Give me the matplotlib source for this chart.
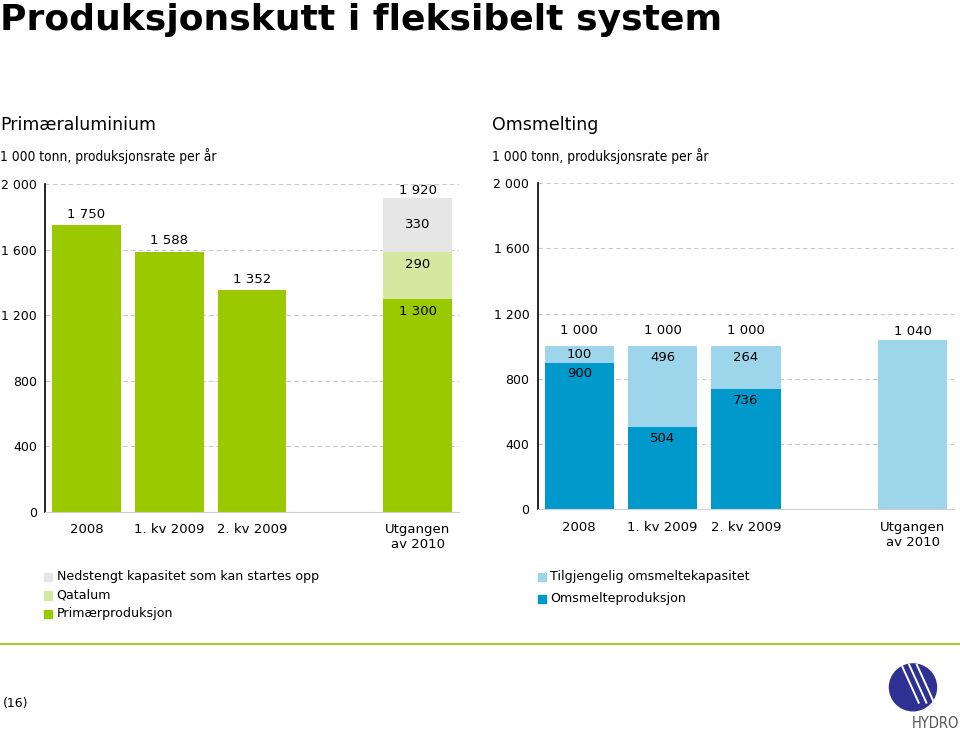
import matplotlib.pyplot as plt
from matplotlib.patches import Ellipse, Rectangle

# ---------------------------------------------------------------------------
# DATA
# ---------------------------------------------------------------------------

CATEGORIES = ["2008", "1. kv 2009", "2. kv 2009", "Utgangen\nav 2010"]
X_POS = [0, 1, 2, 4]

# Primæraluminium (left)
PRIM_PROD = [1750, 1588, 1352, 1300]
QATALUM = [0, 0, 0, 290]
NEDSTENGT = [0, 0, 0, 330]
PRIM_TOTAL = [1750, 1588, 1352, 1920]

# Omsmelting (right)
OMS_PROD = [900, 504, 736, 0]
OMS_AVAIL = [100, 496, 264, 1040]
OMS_TOTAL = [1000, 1000, 1000, 1040]

Y_TICKS = [0, 400, 800, 1200, 1600, 2000]

GREEN = "#9bc900"
GREEN_LIGHT = "#d5e8a0"
GREY = "#e6e6e6"
BLUE = "#0099cc"
BLUE_LIGHT = "#9dd5ea"
NAVY = "#2e3192"

FONT = "DejaVu Sans"


def fmt(v):
    return f"{v:,}".replace(",", " ")


def style_axis(ax):
    ax.set_xlim(-0.5, 4.5)
    ax.set_ylim(0, 2000)
    ax.set_yticks(Y_TICKS)
    ax.set_yticklabels([fmt(v) for v in Y_TICKS], fontsize=9)
    ax.set_xticks(X_POS)
    ax.set_xticklabels(CATEGORIES, fontsize=9.5, linespacing=1.25)
    ax.tick_params(length=0)
    ax.tick_params(axis="y", pad=6)
    ax.tick_params(axis="x", pad=8)
    for s in ("top", "right"):
        ax.spines[s].set_visible(False)
    ax.spines["left"].set_color("black")
    ax.spines["left"].set_linewidth(1.2)
    ax.spines["bottom"].set_color("#d0d0d0")
    ax.grid(axis="y", color="#c8c8c8", linestyle=(0, (4, 3)), lw=0.8)
    ax.set_axisbelow(True)


def label_in(ax, x, top, text, off=-8):
    ax.annotate(text, (x, top), xytext=(0, off), textcoords="offset points",
                ha="center", va="center", fontsize=9.5)


def label_above(ax, x, top, text, off=8):
    ax.annotate(text, (x, top), xytext=(0, off), textcoords="offset points",
                ha="center", va="center", fontsize=9.5)


plt.rcParams["font.family"] = FONT
fig = plt.figure(figsize=(9.6, 7.32), dpi=100)

# ---------------------------------------------------------------------------
# LEFT: Primæraluminium
# ---------------------------------------------------------------------------
ax1 = fig.add_axes([0.047, 0.301, 0.431, 0.447])
w = 0.83
ax1.bar(X_POS, PRIM_PROD, w, color=GREEN, label="Primærproduksjon")
ax1.bar(X_POS, QATALUM, w, bottom=PRIM_PROD, color=GREEN_LIGHT, label="Qatalum")
bot2 = [a + b for a, b in zip(PRIM_PROD, QATALUM)]
ax1.bar(X_POS, NEDSTENGT, w, bottom=bot2, color=GREY,
        label="Nedstengt kapasitet som kan startes opp")
style_axis(ax1)

for x, t in zip(X_POS, PRIM_TOTAL):
    label_above(ax1, x, t, fmt(t), off=8 if x < 4 else 5)
x4 = X_POS[3]
label_in(ax1, x4, PRIM_PROD[3], fmt(PRIM_PROD[3]), off=-9)
label_in(ax1, x4, bot2[3], fmt(QATALUM[3]), off=-9)
ax1.text(x4, bot2[3] + NEDSTENGT[3] / 2, fmt(NEDSTENGT[3]),
         ha="center", va="center", fontsize=9.5)

# ---------------------------------------------------------------------------
# RIGHT: Omsmelting
# ---------------------------------------------------------------------------
ax2 = fig.add_axes([0.560, 0.304, 0.434, 0.446])
ax2.bar(X_POS, OMS_PROD, w, color=BLUE, label="Omsmelteproduksjon")
ax2.bar(X_POS, OMS_AVAIL, w, bottom=OMS_PROD, color=BLUE_LIGHT,
        label="Tilgjengelig omsmeltekapasitet")
style_axis(ax2)

for x, t in zip(X_POS, OMS_TOTAL):
    label_above(ax2, x, t, fmt(t), off=11 if x < 4 else 6)
for x, p, a in zip(X_POS[:3], OMS_PROD, OMS_AVAIL):
    label_in(ax2, x, p, fmt(p))
    label_in(ax2, x, p + a, fmt(a), off=-6 if a < 150 else -8)

# ---------------------------------------------------------------------------
# TEXT, LEGENDS, FOOTER
# ---------------------------------------------------------------------------
fig.text(0.0, 0.972, "Produksjonskutt i fleksibelt system", fontsize=26,
         fontweight="bold", va="center", ha="left")
fig.text(0.0, 0.829, "Primæraluminium", fontsize=12.5, va="center")
fig.text(0.512, 0.829, "Omsmelting", fontsize=12.5, va="center")
for x in (0.0, 0.512):
    fig.text(x, 0.787, "1 000 tonn, produksjonsrate per år", fontsize=9.9,
             fontstretch="condensed", va="center")

def legend_rows(x, ys, items):
    for y, (txt, col) in zip(ys, items):
        fig.patches.append(Rectangle((x, y - 0.006), 0.0085, 0.011,
                                     transform=fig.transFigure, color=col))
        fig.text(x + 0.013, y, txt, fontsize=9.1, va="center")

legend_rows(0.046, [0.212, 0.187, 0.162],
            [("Nedstengt kapasitet som kan startes opp", GREY),
             ("Qatalum", GREEN_LIGHT),
             ("Primærproduksjon", GREEN)])
legend_rows(0.560, [0.212, 0.182],
            [("Tilgjengelig omsmeltekapasitet", BLUE_LIGHT),
             ("Omsmelteproduksjon", BLUE)])

fig.add_artist(plt.Line2D([0, 1], [0.12, 0.12], transform=fig.transFigure,
                          color="#a6c93a", lw=1.5))
fig.text(0.003, 0.039, "(16)", fontsize=9, va="center")

# Hydro logo (simplified)
fig.patches.append(Ellipse((0.951, 0.061), 0.049, 0.064,
                           transform=fig.transFigure, color=NAVY))
for dx in (-0.012, -0.004, 0.004):
    fig.add_artist(plt.Line2D([0.951 + dx, 0.951 + dx + 0.018],
                              [0.092, 0.040], transform=fig.transFigure,
                              color="white", lw=1.4))
fig.text(0.9995, 0.012, "HYDRO", fontsize=10.5, color="#555555",
         fontstretch="condensed", ha="right", va="center")

fig.savefig("out.png", dpi=100)
